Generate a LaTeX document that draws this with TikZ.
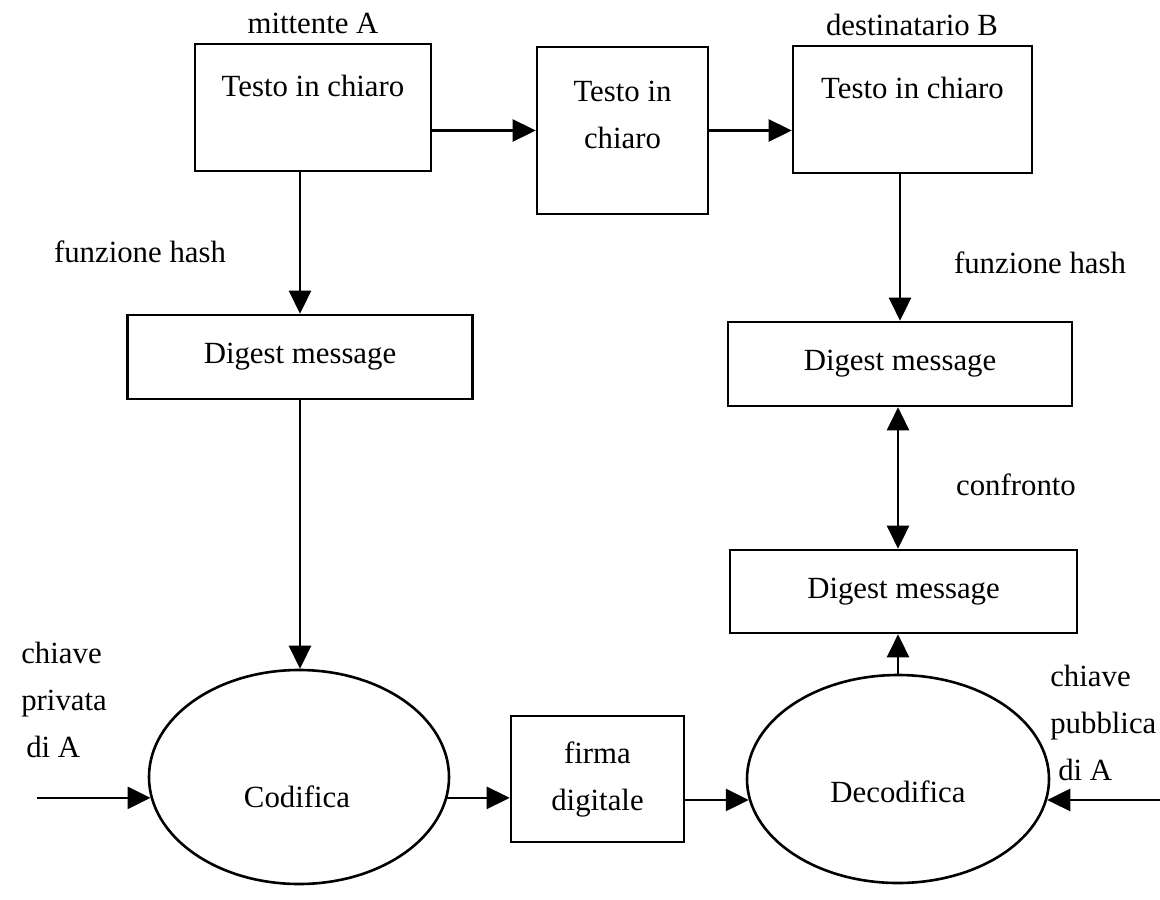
\documentclass[tikz,border=0pt]{standalone}
\usepackage{fontspec}
\setmainfont{Liberation Serif}
\usetikzlibrary{arrows.meta,shapes.geometric}
\begin{document}
\begin{tikzpicture}[x=0.5pt,y=-0.5pt,
  font=\fontsize{15.4}{23.5}\selectfont,
  line width=1.3pt,
  every node/.style={inner sep=0pt},
  box/.style={draw,rectangle,line width=1.3pt},
  ell/.style={draw,ellipse,line width=1.3pt},
  arr/.style={-{Triangle[length=11.5pt,width=11pt]}},
  arrtwo/.style={{Triangle[length=11.5pt,width=11pt]}-{Triangle[length=11.5pt,width=11pt]}}
]
\useasboundingbox (0,0) rectangle (1160,899);

% top row
\node[box, minimum width=118pt, minimum height=63.5pt] (b1) at (313,107.5) {};
\node (t1) at (313,86) {Testo in chiaro};
\node (mitt) at (313,23) {mittente A};
\node[box, minimum width=85.5pt, minimum height=83.5pt] (b2) at (622.5,130.5) {};
\node[align=center] (t2) at (622.5,114.5) {Testo in\\chiaro};
\node[box, minimum width=119.5pt, minimum height=63.5pt] (b3) at (912.5,109.5) {};
\node (t3) at (912.5,88) {Testo in chiaro};
\node (dest) at (912,25) {destinatario B};

% digests
\node[box, minimum width=172.5pt, minimum height=42pt] (d1) at (300,357) {Digest message};
\node (fh1) at (140,252) {funzione hash};
\node[box, minimum width=172pt, minimum height=42pt] (d2) at (900,364) {Digest message};
\node (fh2) at (1040,263) {funzione hash};
\node (conf) at (1016,485) {confronto};
\node[box, minimum width=173.5pt, minimum height=41.5pt] (d3) at (903.5,591.5) {Digest message};

% bottom row
\node[ell, minimum width=150pt, minimum height=107pt] (cod) at (299,777) {};
\node (codt) at (297,797) {Codifica};
\node[box, minimum width=86.5pt, minimum height=63pt, align=center] (firma) at (597.5,779) {firma\\digitale};
\node[ell, minimum width=151pt, minimum height=104pt] (dec) at (898,779) {};
\node (dect) at (898,792) {Decodifica};

\node[align=left, anchor=west] (kl) at (20,700) {chiave\\privata\\\hspace*{2.5pt}di A};
\node[align=left, anchor=west] (kr) at (1049,723) {chiave\\pubblica\\\hspace*{4pt}di A};

\coordinate (inL) at (37,797);
\coordinate (inR) at (1160,800);

% connectors
\draw[arr] (b2.west -| b1.east) -- (b2.west);
\draw[arr] (b2.east) -- (b2.east -| b3.west);
\draw[arr] (b1.south -| d1.north) -- (d1.north);
\draw[arr] (d1.south) -- (d1.south |- cod.north);
\draw[arr] (b3.south -| d2.north) -- (d2.north);
\draw[arrtwo] (d2.south -| dec.north) -- (d3.north -| dec.north);
\draw[arr] (dec.north) -- (dec.north |- d3.south);
\draw[arr] (inL |- cod.188) -- (cod.188);
\draw[arr] (cod.352) -- (cod.352 -| firma.west);
\draw[arr] (dec.188 -| firma.east) -- (dec.188);
\draw[arr] (inR |- dec.352) -- (dec.352);
\end{tikzpicture}
\end{document}
